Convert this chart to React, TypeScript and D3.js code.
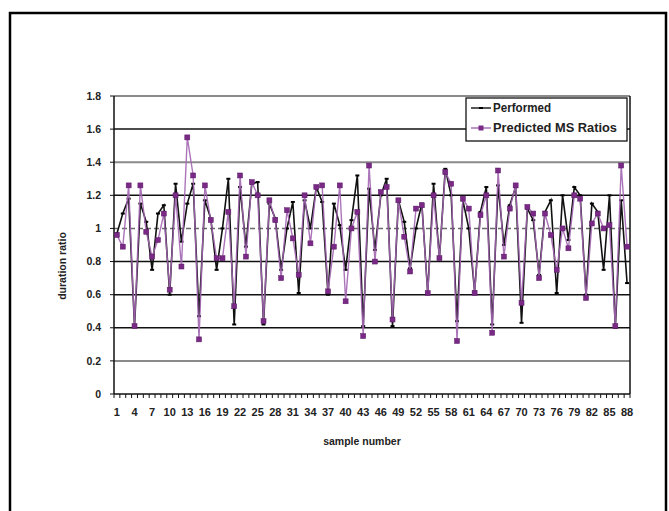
import React from "react";
import * as d3 from "d3";

const categories: number[] = Array.from({ length: 88 }, (_, i) => i + 1);

const performed: number[] = [
  0.97, 1.09, 1.18, 0.41, 1.15, 1.04, 0.75, 1.09, 1.14, 0.60,
  1.27, 0.92, 1.15, 1.27, 0.47, 1.17, 1.06, 0.75, 1.00, 1.30,
  0.42, 1.25, 0.89, 1.27, 1.28, 0.42, 1.15, 1.06, 0.75, 1.00,
  1.16, 0.61, 1.17, 1.00, 1.25, 1.16, 0.60, 1.15, 1.02, 0.75,
  1.05, 1.32, 0.41, 1.24, 0.87, 1.20, 1.30, 0.41, 1.17, 1.04,
  0.76, 1.00, 1.15, 0.61, 1.27, 0.82, 1.36, 1.20, 0.44, 1.17,
  1.00, 0.62, 1.10, 1.25, 0.42, 1.26, 0.90, 1.14, 1.25, 0.43,
  1.12, 1.05, 0.72, 1.10, 1.17, 0.61, 1.20, 0.93, 1.25, 1.20,
  0.60, 1.15, 1.10, 0.75, 1.20, 0.40, 1.17, 0.67,
];

const predicted: number[] = [
  0.96, 0.89, 1.26, 0.41, 1.26, 0.98, 0.83, 0.93, 1.09, 0.63,
  1.20, 0.77, 1.55, 1.32, 0.33, 1.26, 1.05, 0.82, 0.82, 1.10,
  0.53, 1.32, 0.83, 1.28, 1.20, 0.44, 1.17, 1.05, 0.70, 1.11,
  0.94, 0.72, 1.20, 0.91, 1.25, 1.26, 0.62, 0.89, 1.26, 0.56,
  1.00, 1.10, 0.35, 1.38, 0.80, 1.22, 1.25, 0.45, 1.17, 0.95,
  0.74, 1.12, 1.14, 0.61, 1.20, 0.82, 1.34, 1.27, 0.32, 1.18,
  1.12, 0.61, 1.08, 1.20, 0.37, 1.35, 0.83, 1.12, 1.26, 0.55,
  1.13, 1.09, 0.70, 1.09, 0.96, 0.75, 1.00, 0.88, 1.20, 1.18,
  0.58, 1.03, 1.09, 1.00, 1.02, 0.41, 1.38, 0.89,
];

const yTicks: number[] = [0, 0.2, 0.4, 0.6, 0.8, 1, 1.2, 1.4, 1.6, 1.8];
const xTickLabels: number[] = categories.filter((c) => (c - 1) % 3 === 0);

const seriesNames = ["Performed", "Predicted MS Ratios"];
const xTitle = "sample number";
const yTitle = "duration ratio";

const W = 669;
const H = 511;
const plot = { left: 114, right: 630, top: 96, bottom: 394 };
const FONT = "'Liberation Sans Narrow', 'Arial Narrow', Arial, 'Liberation Sans', sans-serif";

export default function App() {
  const x = d3
    .scaleBand<number>()
    .domain(categories)
    .range([plot.left, plot.right]);
  const y = d3.scaleLinear().domain([0, 1.8]).range([plot.bottom, plot.top]);
  const cx = (c: number) => (x(c) as number) + x.bandwidth() / 2;

  const line = d3
    .line<number>()
    .x((_, i) => cx(categories[i]))
    .y((d) => y(d));

  const gridStyle = (t: number) => {
    if (t === 1.8 || t === 1.4 || t === 0.2) return { stroke: "#8a8a8a", width: 2, dash: "" };
    if (t === 1) return { stroke: "#6a6a6a", width: 1.6, dash: "5,3" };
    return { stroke: "#111", width: 1.5, dash: "" };
  };

  const boundaries = [...categories.map((c) => x(c) as number), plot.right];

  return (
    <svg
      width={W}
      height={H}
      style={{ position: "absolute", left: 0, top: 0, background: "#fff" }}
      fontFamily={FONT}
    >
      <rect x={0} y={0} width={W} height={H} fill="#fff" />
      <rect x={10} y={13} width={656} height={530} fill="none" stroke="#000" strokeWidth={2.5} />

      {yTicks.map((t) => {
        if (t === 0) return null;
        const s = gridStyle(t);
        return (
          <line
            key={"g" + t}
            x1={plot.left}
            x2={plot.right}
            y1={y(t)}
            y2={y(t)}
            stroke={s.stroke}
            strokeWidth={s.width}
            strokeDasharray={s.dash || undefined}
          />
        );
      })}

      <line x1={plot.right} x2={plot.right} y1={plot.top} y2={plot.bottom} stroke="#111" strokeWidth={1.5} />

      <line x1={plot.left} x2={plot.left} y1={plot.top} y2={plot.bottom} stroke="#111" strokeWidth={1.5} />
      {yTicks.map((t) => (
        <g key={"yt" + t}>
          <line x1={plot.left - 4} x2={plot.left} y1={y(t)} y2={y(t)} stroke="#111" strokeWidth={1} />
          <text
            x={plot.left - 13}
            y={y(t)}
            dy="0.35em"
            textAnchor="end"
            fontSize={10.5}
            fontWeight="bold"
            fill="#222"
          >
            {String(t)}
          </text>
        </g>
      ))}

      <line x1={plot.left} x2={plot.right} y1={plot.bottom} y2={plot.bottom} stroke="#111" strokeWidth={1.5} />
      {boundaries.map((bx, i) => (
        <line key={"xt" + i} x1={bx} x2={bx} y1={plot.bottom} y2={plot.bottom + 4} stroke="#111" strokeWidth={1} />
      ))}
      {xTickLabels.map((c) => (
        <text
          key={"xl" + c}
          x={cx(c)}
          y={plot.bottom + 22}
          textAnchor="middle"
          fontSize={11}
          fontWeight="bold"
          fill="#222"
        >
          {String(c)}
        </text>
      ))}

      <path d={line(performed) || ""} fill="none" stroke="#111" strokeWidth={1.6} />
      {performed.map((v, i) => (
        <rect
          key={"pm" + i}
          x={cx(categories[i]) - 2}
          y={y(v) - 1}
          width={4}
          height={2}
          fill="#000"
        />
      ))}

      <path d={line(predicted) || ""} fill="none" stroke="#a366b3" strokeWidth={1.4} opacity={0.9} />
      {predicted.map((v, i) => (
        <rect
          key={"pr" + i}
          x={cx(categories[i]) - 2.5}
          y={y(v) - 2.5}
          width={5}
          height={5}
          fill="#7a2a86"
          stroke="#5a1a66"
          strokeWidth={0.5}
        />
      ))}

      <g>
        <rect x={466} y={98} width={161} height={43} fill="#fff" stroke="#111" strokeWidth={1.3} />
        <line x1={471} x2={491} y1={108} y2={108} stroke="#111" strokeWidth={1.4} />
        <rect x={479} y={107} width={4} height={2} fill="#000" />
        <text x={493} y={108} dy="0.35em" fontSize={12} fontWeight="bold" fill="#222" textLength={58} lengthAdjust="spacingAndGlyphs">
          {seriesNames[0]}
        </text>
        <line x1={471} x2={491} y1={128} y2={128} stroke="#a366b3" strokeWidth={1.4} />
        <rect x={478.5} y={125.5} width={5} height={5} fill="#7a2a86" />
        <text x={493} y={128} dy="0.35em" fontSize={12} fontWeight="bold" fill="#222" textLength={124} lengthAdjust="spacingAndGlyphs">
          {seriesNames[1]}
        </text>
      </g>

      <text x={362} y={445} textAnchor="middle" fontSize={10.5} fontWeight="bold" fill="#222">
        {xTitle}
      </text>
      <text
        transform={`translate(66,266) rotate(-90)`}
        textAnchor="middle"
        fontSize={10.5}
        fontWeight="bold"
        fill="#222"
      >
        {yTitle}
      </text>
    </svg>
  );
}
